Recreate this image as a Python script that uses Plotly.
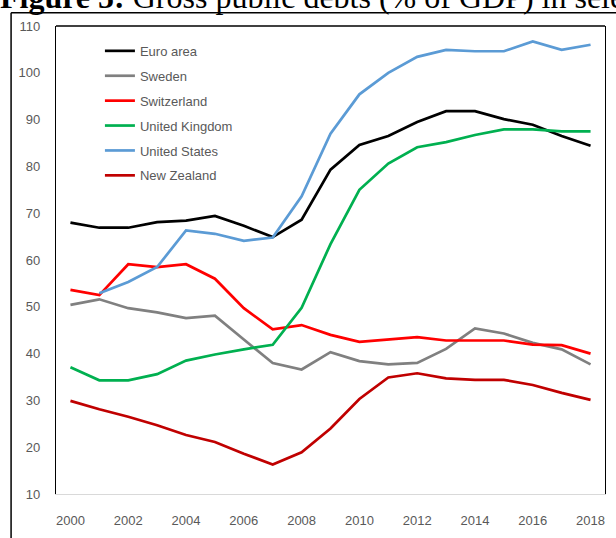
import plotly.graph_objects as go

# Gross public debts (% of GDP)
years = list(range(2000, 2019))

euro_area = [68.0, 66.9, 66.9, 68.1, 68.4, 69.4, 67.3, 64.9, 68.6, 79.3, 84.6, 86.5,
             89.5, 91.8, 91.8, 90.1, 88.9, 86.5, 84.4]
sweden = [50.4, 51.6, 49.7, 48.8, 47.6, 48.1, 43.0, 38.0, 36.6, 40.3, 38.4, 37.7,
          38.0, 41.0, 45.4, 44.3, 42.3, 40.9, 37.7]
switzerland = [53.6, 52.5, 59.1, 58.5, 59.1, 56.0, 49.7, 45.2, 46.1, 44.0, 42.5, 43.0,
               43.5, 42.8, 42.8, 42.8, 41.9, 41.8, 40.0]
united_kingdom = [37.1, 34.3, 34.3, 35.6, 38.5, 39.8, 40.9, 41.9, 49.8, 63.4, 75.0, 80.6,
                  84.1, 85.2, 86.7, 87.9, 87.9, 87.5, 87.5]
united_states = [None, 52.9, 55.3, 58.5, 66.3, 65.6, 64.1, 64.8, 73.6, 87.0, 95.4, 100.0,
                 103.4, 104.9, 104.6, 104.6, 106.7, 104.9, 106.0]
new_zealand = [29.9, 28.1, 26.5, 24.7, 22.6, 21.1, 18.6, 16.3, 18.9, 24.0, 30.3, 34.9,
               35.8, 34.7, 34.4, 34.4, 33.3, 31.6, 30.1]

series = [
    ("Euro area", euro_area, "#000000"),
    ("Sweden", sweden, "#808080"),
    ("Switzerland", switzerland, "#ff0000"),
    ("United Kingdom", united_kingdom, "#00b050"),
    ("United States", united_states, "#5b9bd5"),
    ("New Zealand", new_zealand, "#c00000"),
]

y_ticks = list(range(10, 111, 10))
x_ticks = list(range(2000, 2019, 2))

fig = go.Figure()
for name, vals, color in series:
    fig.add_trace(go.Scatter(x=years, y=vals, mode="lines", name=name, legendgroup=name,
                             line=dict(color=color, width=2.7)))

# plot area is 56..606 px wide, 26..499 px tall
def px(x):
    return (x - 56) / 550

def py(y):
    return (499 - y) / 473

shapes = [
    # top edge of the plot box
    dict(type="line", xref="paper", yref="paper", x0=0, x1=1, y0=1, y1=1,
         line=dict(color="#000000", width=1.3)),
    # frame of the document figure (continues off the page)
    dict(type="line", xref="paper", yref="paper", x0=px(11), x1=px(11), y0=py(12.5), y1=py(560),
         line=dict(color="#000000", width=1.5)),
    dict(type="line", xref="paper", yref="paper", x0=px(11), x1=px(640), y0=py(12.5), y1=py(12.5),
         line=dict(color="#000000", width=1.5)),
]

fig.update_layout(
    width=616, height=538,
    margin=dict(l=56, r=10, t=26, b=39),
    paper_bgcolor="white", plot_bgcolor="white",
    font=dict(family="Liberation Sans", color="#595959", size=13),
    showlegend=True,
    legend=dict(x=px(100), y=py(36), xanchor="left", yanchor="top",
                bgcolor="rgba(0,0,0,0)", font=dict(size=13, color="#595959"),
                tracegroupgap=5, traceorder="grouped"),
    shapes=shapes,
    annotations=[dict(
        text="<b>Figure 5:</b> Gross public debts (% of GDP) in selected economies",
        xref="paper", yref="paper", x=px(-2), y=py(-3.5), xanchor="left", yanchor="middle",
        showarrow=False, font=dict(family="Liberation Serif", size=32, color="#000000"),
    )],
)
fig.update_xaxes(range=[1999.5, 2018.5], tickvals=x_ticks, showgrid=False, zeroline=False,
                 showline=True, linecolor="#d9d9d9", linewidth=1.3, ticks="",
                 ticklabelstandoff=14, tickfont=dict(size=13, color="#595959"))
fig.update_yaxes(range=[10, 110], tickvals=y_ticks, showgrid=False, zeroline=False,
                 showline=True, linecolor="#000000", linewidth=1.3, mirror=True, ticks="",
                 ticklabelstandoff=12, tickfont=dict(size=13, color="#595959"))

# page body has a default margin; drop it so the figure sits at the window corner
fig.write_html("out.html", config={"displayModeBar": False},
               post_script="document.body.style.margin='0';document.body.style.overflow='hidden';")
